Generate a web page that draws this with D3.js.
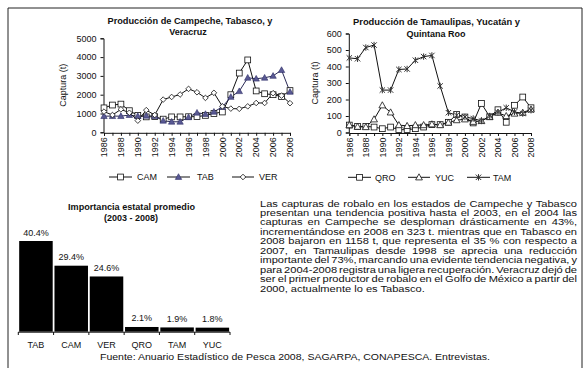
<!DOCTYPE html>
<html><head><meta charset="utf-8">
<script src="https://cdn.jsdelivr.net/npm/d3@7"></script>
<style>body{margin:0;background:#fff}svg{display:block}text{font-family:"Liberation Sans",Arial,sans-serif;fill:#111}</style>
</head><body><svg id="c" width="587" height="368"></svg>
<script>
// ---------- data ----------
const years = [1986,1987,1988,1989,1990,1991,1992,1993,1994,1995,1996,1997,1998,1999,2000,2001,2002,2003,2004,2005,2006,2007,2008];
const tickYears = [1986,1988,1990,1992,1994,1996,1998,2000,2002,2004,2006,2008];
const CAM = [1300,1450,1500,1150,900,820,830,700,820,820,830,830,900,1000,1080,2000,3150,3850,2200,2050,2000,1900,2220];
const TAB = [860,860,860,915,860,880,860,615,560,560,800,1040,970,1090,1350,1880,2185,2900,2850,2900,3000,3310,2150];
const VER = [1100,920,1220,1040,620,1180,920,1740,1880,2010,2310,2130,1830,2100,1380,1260,1250,1380,1560,1560,2080,1950,1550];
const QRO = [45,37,37,33,23,33,17,17,23,33,48,48,62,110,94,58,176,95,138,62,165,215,150];
const YUC = [45,35,33,80,165,122,45,40,45,45,50,45,60,75,80,65,70,95,120,100,115,120,140];
const TAM = [452,447,515,530,257,257,382,385,438,460,467,282,120,105,94,85,70,100,122,150,125,115,135];
const leftTicks = [0,1000,2000,3000,4000,5000];
const rightTicks = [0,100,200,300,400,500,600];
const barCats = ["TAB","CAM","VER","QRO","TAM","YUC"];
const barVals = [40.4,29.4,24.6,2.1,1.9,1.8];
const paragraph = [
 "Las capturas de robalo en los estados de Campeche y Tabasco",
 "presentan una tendencia positiva hasta el 2003, en el 2004 las",
 "capturas en Campeche se desploman drásticamente en 43%,",
 "incrementándose en 2008 en 323 t. mientras que en Tabasco en",
 "2008 bajaron en 1158 t, que representa el 35 % con respecto a",
 "2007, en Tamaulipas desde 1998 se aprecia una reducción",
 "importante del 73%, marcando una evidente tendencia negativa, y",
 "para 2004-2008 registra una ligera recuperación. Veracruz dejó de",
 "ser el primer productor de robalo en el Golfo de México a partir del",
 "2000, actualmente lo es Tabasco."
];
const footer = "Fuente: Anuario Estadístico de Pesca 2008, SAGARPA, CONAPESCA. Entrevistas.";

const svg = d3.select("#c");
svg.append("path").attr("d","M8,368V8H582V368").attr("fill","none").attr("stroke","#222").attr("stroke-width",1);

// ---------- markers ----------
function marker(g, type, x, y, color){
  if(type==="square"){
    g.append("rect").attr("x",x-2.9).attr("y",y-2.9).attr("width",5.8).attr("height",5.8)
     .attr("fill","#fff").attr("stroke","#111").attr("stroke-width",0.8);
  } else if(type==="triF"){
    g.append("path").attr("d",`M${x},${y-3.3}L${x+3.2},${y+2.4}L${x-3.2},${y+2.4}Z`)
     .attr("fill",color).attr("stroke","#2e2e66").attr("stroke-width",0.6);
  } else if(type==="triO"){
    g.append("path").attr("d",`M${x},${y-3.5}L${x+3.4},${y+2.6}L${x-3.4},${y+2.6}Z`)
     .attr("fill","#fff").attr("stroke","#111").attr("stroke-width",0.8);
  } else if(type==="diamond"){
    g.append("path").attr("d",`M${x},${y-2.8}L${x+2.8},${y}L${x},${y+2.8}L${x-2.8},${y}Z`)
     .attr("fill","#fff").attr("stroke","#111").attr("stroke-width",0.8);
  } else if(type==="star"){
    g.append("path").attr("d",`M${x-2.7},${y-2.7}L${x+2.7},${y+2.7}M${x+2.7},${y-2.7}L${x-2.7},${y+2.7}M${x},${y-3.2}L${x},${y+3.2}`)
     .attr("fill","none").attr("stroke","#333").attr("stroke-width",1);
  }
}

// ---------- line chart ----------
function lineChart(cfg){
  const g = svg.append("g");
  const x = d3.scaleLinear().domain([years[0], years[years.length-1]]).range(cfg.xr);
  const y = d3.scaleLinear().domain([0, cfg.ticks[cfg.ticks.length-1]]).range(cfg.yr);
  const ya = g.append("g").attr("transform",`translate(${cfg.xr[0]-0.5},0)`)
    .call(d3.axisLeft(y).tickValues(cfg.ticks).tickSize(3).tickPadding(4).tickFormat(d3.format("d")));
  ya.select(".domain").attr("stroke","#111");
  ya.selectAll("line").attr("stroke","#111");
  ya.selectAll("text").attr("font-size","9px").attr("font-family","Liberation Sans, Arial").attr("fill","#111");
  const xa = g.append("g").attr("transform",`translate(0,${cfg.yr[0]+0.5})`)
    .call(d3.axisBottom(x).tickValues(years).tickSize(3).tickFormat(""));
  xa.select(".domain").attr("stroke","#111");
  xa.selectAll("line").attr("stroke","#111");
  g.selectAll(".xl").data(tickYears).join("text")
    .attr("transform",d=>`translate(${x(d)+3.2},${cfg.yr[0]+5}) rotate(-90)`)
    .attr("text-anchor","end").attr("font-size","9px").text(d=>d);
  g.append("text").attr("transform",`translate(${cfg.ylx},${(cfg.yr[0]+cfg.yr[1])/2}) rotate(-90)`)
    .attr("text-anchor","middle").attr("font-size","9px").text("Captura (t)");
  cfg.title.forEach((t,i)=>{
    const tt = g.append("text").attr("x",cfg.tx[i]).attr("y",cfg.ty[i]).attr("text-anchor","middle")
     .attr("font-size","9px").attr("font-weight","bold").text(t);
    if(cfg.tw[i]) tt.attr("textLength",cfg.tw[i]).attr("lengthAdjust","spacingAndGlyphs");
  });
  const line = d3.line().x((d,i)=>x(years[i])).y(d=>y(d));
  cfg.series.forEach(s=>{
    g.append("path").datum(s.values).attr("d",line).attr("fill","none")
      .attr("stroke",s.lc).attr("stroke-width",1);
  });
  cfg.series.forEach(s=>{
    s.values.forEach((v,i)=>marker(g,s.m,x(years[i]),y(v),s.mc));
  });
  cfg.series.forEach(s=>{
    g.append("line").attr("x1",s.lx[0]).attr("x2",s.lx[1]).attr("y1",cfg.ly).attr("y2",cfg.ly)
      .attr("stroke","#111").attr("stroke-width",1);
    marker(g,s.m,(s.lx[0]+s.lx[1])/2,cfg.ly,s.mc);
    g.append("text").attr("x",s.tx).attr("y",cfg.ly+3.3).attr("font-size","9px").text(s.name);
  });
}

lineChart({
  xr:[104,290], yr:[132.3,38.3], ticks:leftTicks, ylx:66,
  title:["Producción de Campeche, Tabasco, y","Veracruz"], tx:[190,188], ty:[23.5,34.5], tw:[165,0],
  ly:177,
  series:[
    {name:"CAM",values:CAM,m:"square",lc:"#111",mc:"#fff",lx:[109,132],tx:137},
    {name:"TAB",values:TAB,m:"triF",lc:"#2a2a55",mc:"#5a5a94",lx:[167,190],tx:197},
    {name:"VER",values:VER,m:"diamond",lc:"#111",mc:"#fff",lx:[232,254],tx:259}
  ]
});
lineChart({
  xr:[349.3,531], yr:[132.5,33.5], ticks:rightTicks, ylx:318,
  title:["Producción de Tamaulipas, Yucatán y","Quintana Roo"], tx:[436.5,436], ty:[24.5,37], tw:[167,0],
  ly:177.3,
  series:[
    {name:"QRO",values:QRO,m:"square",lc:"#111",mc:"#fff",lx:[348,371],tx:375},
    {name:"YUC",values:YUC,m:"triO",lc:"#111",mc:"#fff",lx:[408,430],tx:435},
    {name:"TAM",values:TAM,m:"star",lc:"#111",mc:"#333",lx:[467,490],tx:493}
  ]
});

// ---------- bar chart ----------
(function(){
  const g = svg.append("g");
  const x = d3.scaleBand().domain(barCats).range([18.3,230]).paddingInner(0.05).paddingOuter(0.025);
  const y = d3.scaleLinear().domain([0,40.4]).range([331.7,241]);
  g.selectAll("rect").data(barVals).join("rect")
    .attr("x",(d,i)=>x(barCats[i])).attr("width",x.bandwidth())
    .attr("y",d=>y(d)).attr("height",d=>y(0)-y(d)).attr("fill","#000");
  g.append("line").attr("x1",18.3).attr("x2",230).attr("y1",332.2).attr("y2",332.2).attr("stroke","#111");
  const step = (230-18.3)/barCats.length;
  d3.range(barCats.length+1).forEach(k=>{
    g.append("line").attr("x1",18.3+k*step).attr("x2",18.3+k*step).attr("y1",332).attr("y2",335).attr("stroke","#111");
  });
  g.selectAll(".bl").data(barVals).join("text")
    .attr("x",(d,i)=>x(barCats[i])+x.bandwidth()/2).attr("y",d=>y(d)-5.5)
    .attr("text-anchor","middle").attr("font-size","9px").text(d=>d.toFixed(1)+"%");
  g.selectAll(".cl").data(barCats).join("text")
    .attr("x",d=>x(d)+x.bandwidth()/2).attr("y",347.5)
    .attr("text-anchor","middle").attr("font-size","9px").text(d=>d);
  g.append("text").attr("x",131.5).attr("y",209.5).attr("text-anchor","middle").attr("font-size","8.5px")
    .attr("font-weight","bold").attr("textLength",127).attr("lengthAdjust","spacingAndGlyphs").text("Importancia estatal promedio");
  g.append("text").attr("x",131).attr("y",220.5).attr("text-anchor","middle").attr("font-size","8.5px")
    .attr("font-weight","bold").attr("textLength",54).attr("lengthAdjust","spacingAndGlyphs").text("(2003 - 2008)");
})();

// ---------- paragraph (justified) ----------
(function(){
  const sx = 1.18, left = 260, right = 577, fs = 9.4;
  const g = svg.append("g").attr("transform",`translate(${left},0) scale(${sx},1)`);
  const target = (right-left)/sx;
  paragraph.forEach((ln,i)=>{
    const yb = 206.6 + i*9.45;
    if(i===paragraph.length-1){
      g.append("text").attr("x",0).attr("y",yb).attr("font-size",fs+"px").text(ln);
      return;
    }
    const words = ln.split(" ");
    const els = words.map(w=>g.append("text").attr("y",yb).attr("font-size",fs+"px").text(w));
    const ws = els.map(e=>e.node().getComputedTextLength());
    const total = d3.sum(ws);
    const gap = (target-total)/(words.length-1);
    let cx = 0;
    els.forEach((e,k)=>{ e.attr("x",cx); cx += ws[k]+gap; });
  });
})();

// ---------- footer ----------
svg.append("text").attr("x",100).attr("y",360).attr("font-size","9.5px")
  .attr("textLength",390).attr("lengthAdjust","spacingAndGlyphs").text(footer);
</script></body></html>
